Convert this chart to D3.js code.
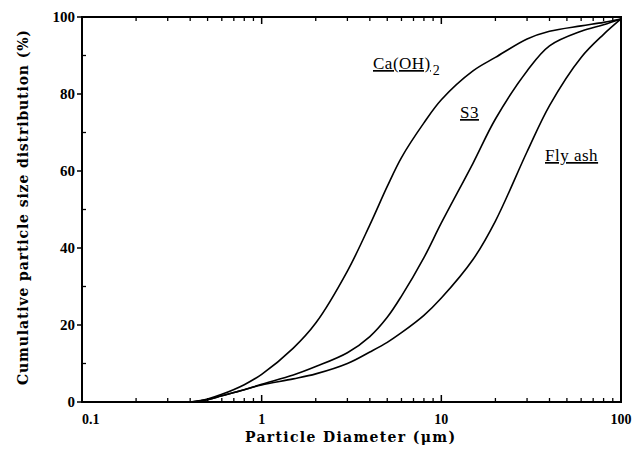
<!DOCTYPE html>
<html>
<head>
<meta charset="utf-8">
<script src="https://cdn.jsdelivr.net/npm/d3@7"></script>
<style>
  body { margin: 0; background: #fff; }
  svg text { font-family: "Liberation Serif", "Times New Roman", serif; fill: #000; }
</style>
</head>
<body>
<svg id="chart" width="633" height="451"></svg>
<script>
// particle diameters (um) shared by all three curves
var diameters = [0.4, 0.5, 0.6, 0.8, 1, 1.5, 2, 3, 4, 5, 6, 8, 10, 15, 20, 30, 40, 60, 80, 100];
var caoh2 = [0, 0.8, 2, 4.5, 7.2, 14, 20.5, 34, 46, 56, 63.5, 72.5, 78.5, 86, 89.5, 94.3, 96.3, 97.7, 98.6, 99.5];
var s3 = [0, 0.6, 1.6, 3.2, 4.6, 7, 9.2, 12.8, 17, 22, 27.5, 37.5, 46.5, 62, 73.5, 86, 92.5, 96.3, 98, 99.5];
var flyash = [0, 0.6, 1.6, 3.2, 4.4, 6, 7.3, 10, 13, 15.5, 18, 22.5, 27, 37, 47, 65, 77, 89.5, 95.5, 99.5];

var xTicks = [0.1, 1, 10, 100];
var xTickLabels = ["0.1", "1", "10", "100"];
var yTicks = [0, 20, 40, 60, 80, 100];

var svg = d3.select("#chart"),
    mLeft = 82, mRight = 621, mTop = 17, mBottom = 402;

var x = d3.scaleLog().domain([0.1, 100]).range([mLeft, mRight]);
var y = d3.scaleLinear().domain([0, 100]).range([mBottom, mTop]);

// minor log ticks 0.2..0.9, 2..9, 20..90
var minorX = [];
[0.1, 1, 10].forEach(function (b) {
    for (var k = 2; k <= 9; k++) minorX.push(b * k);
});
var minorY = [10, 30, 50, 70, 90];

var g = svg.append("g");

// frame
g.append("rect")
    .attr("x", mLeft).attr("y", mTop)
    .attr("width", mRight - mLeft).attr("height", mBottom - mTop)
    .attr("fill", "none").attr("stroke", "#000").attr("stroke-width", 2);

// bottom + top ticks (pointing inward)
g.selectAll(".xminor").data(minorX).enter().append("path")
    .attr("d", function (d) {
        return "M" + x(d) + "," + mBottom + "v-4M" + x(d) + "," + mTop + "v4";
    })
    .attr("stroke", "#000").attr("stroke-width", 1.3);
g.selectAll(".xmajor").data([1, 10]).enter().append("path")
    .attr("d", function (d) {
        return "M" + x(d) + "," + mBottom + "v-7M" + x(d) + "," + mTop + "v7";
    })
    .attr("stroke", "#000").attr("stroke-width", 1.5);

// y ticks: majors outward, minors inward
g.selectAll(".ymajor").data(yTicks).enter().append("path")
    .attr("d", function (d) { return "M" + (mLeft - 5) + "," + y(d) + "h5"; })
    .attr("stroke", "#000").attr("stroke-width", 1.5);
g.selectAll(".yminor").data(minorY).enter().append("path")
    .attr("d", function (d) { return "M" + mLeft + "," + y(d) + "h4"; })
    .attr("stroke", "#000").attr("stroke-width", 1.3);

// tick labels
g.selectAll(".ylab").data(yTicks).enter().append("text")
    .attr("x", mLeft - 7).attr("y", function (d) { return y(d) + 5; })
    .attr("text-anchor", "end")
    .style("font-size", "15px").style("font-weight", "bold")
    .text(function (d) { return d; });

g.selectAll(".xlab").data(xTicks).enter().append("text")
    .attr("x", function (d) { return x(d); })
    .attr("y", 424)
    .attr("text-anchor", function (d, i) { return i === 0 ? "start" : "middle"; })
    .style("font-size", "14px").style("font-weight", "bold")
    .text(function (d, i) { return xTickLabels[i]; });

// axis titles
svg.append("text")
    .attr("x", 245).attr("y", 442)
    .attr("textLength", 210).attr("lengthAdjust", "spacing")
    .style("font-family", "'DejaVu Serif', serif")
    .style("font-size", "14px").style("font-weight", "bold")
    .text("Particle Diameter (\u03bcm)");

svg.append("text")
    .attr("transform", "translate(28,385) rotate(-90)")
    .attr("textLength", 355).attr("lengthAdjust", "spacing")
    .style("font-family", "'DejaVu Serif', serif")
    .style("font-size", "14px").style("font-weight", "bold")
    .text("Cumulative particle size distribution (%)");

// curves
var line = d3.line()
    .x(function (d) { return x(d[0]); })
    .y(function (d) { return y(d[1]); })
    .curve(d3.curveCatmullRom.alpha(0.5));

[caoh2, s3, flyash].forEach(function (vals) {
    g.append("path")
        .datum(d3.zip(diameters, vals))
        .attr("d", line)
        .attr("fill", "none").attr("stroke", "#000").attr("stroke-width", 1.6);
});

// curve labels (underlined)
function label(tx, ty, str, sub) {
    var t = svg.append("text")
        .attr("x", tx).attr("y", ty)
        .style("font-size", "17px").style("letter-spacing", "0.5px")
        .style("text-decoration", "underline")
        .text(str);
    if (sub) {
        svg.append("text")
            .attr("x", tx + t.node().getComputedTextLength() + 2).attr("y", ty + 6)
            .style("font-size", "14px").text(sub);
    }
}
label(373, 69, "Ca(OH)", "2");
label(460, 118, "S3");
label(545, 161, "Fly ash");
</script>
</body>
</html>
